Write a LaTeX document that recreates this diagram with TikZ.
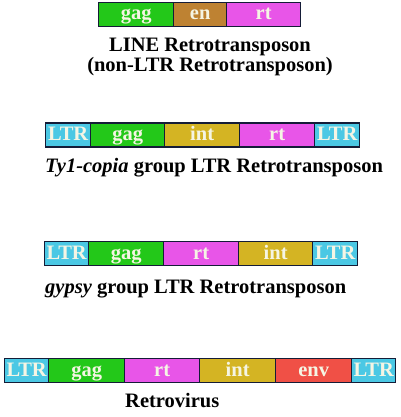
\documentclass[tikz,border=0pt]{standalone}
\usepackage{fontspec}
\setmainfont{Liberation Serif}
\definecolor{cltr}{RGB}{75,200,228}
\definecolor{cgag}{RGB}{35,200,25}
\definecolor{cen}{RGB}{190,130,50}
\definecolor{crt}{RGB}{232,85,232}
\definecolor{cint}{RGB}{212,180,35}
\definecolor{cenv}{RGB}{240,80,70}
\definecolor{cline}{RGB}{20,28,55}
\definecolor{clab}{RGB}{245,245,228}
\begin{document}
\begin{tikzpicture}[x=1pt,y=-1pt,
  seg/.style={draw=cline, line width=1.3pt, minimum height=24pt, inner sep=0pt,
    anchor=west, text=clab, font=\fontsize{20.5}{20.5}\selectfont\bfseries,
    text height=11pt, text depth=0pt},
  captext/.style={anchor=base west, inner sep=0pt, align=center,
    font=\fontsize{20.5}{17.5}\selectfont\bfseries}]
\useasboundingbox (0,0) rectangle (400,417);
% Row 1: LINE
\node[seg, fill=cgag, minimum width=75pt] (agag) at (98,14.5) {gag};
\node[seg, fill=cen, minimum width=53pt] (aen) at (173,14.5) {en};
\node[seg, fill=crt, minimum width=74pt] (art) at (226,14.5) {rt};
\node[captext, anchor=north] (atxt) at (210,38) {LINE Retrotransposon\\(non-LTR Retrotransposon)};
% Row 2: Ty1-copia
\node[seg, fill=cltr, minimum width=45pt] (bltr1) at (45,135) {LTR};
\node[seg, fill=cgag, minimum width=74pt] (bgag) at (90,135) {gag};
\node[seg, fill=cint, minimum width=75pt] (bint) at (164,135) {int};
\node[seg, fill=crt, minimum width=75pt] (brt) at (239,135) {rt};
\node[seg, fill=cltr, minimum width=45pt] (bltr2) at (314,135) {LTR};
\node[captext] (btxt) at (45,172) {\textit{Ty1-copia} group LTR Retrotransposon};
% Row 3: gypsy
\node[seg, fill=cltr, minimum width=44pt] (cltr1) at (44,253.5) {LTR};
\node[seg, fill=cgag, minimum width=75pt] (cgagn) at (88,253.5) {gag};
\node[seg, fill=crt, minimum width=75pt] (crtn) at (163,253.5) {rt};
\node[seg, fill=cint, minimum width=74pt] (cintn) at (238,253.5) {int};
\node[seg, fill=cltr, minimum width=45pt] (cltr2) at (312,253.5) {LTR};
\node[captext] (ctxt) at (45,293) {\textit{gypsy} group LTR Retrotransposon};
% Row 4: Retrovirus
\node[seg, fill=cltr, minimum width=44pt] (dltr1) at (4,370.5) {LTR};
\node[seg, fill=cgag, minimum width=76pt] (dgag) at (48,370.5) {gag};
\node[seg, fill=crt, minimum width=75pt] (drt) at (124,370.5) {rt};
\node[seg, fill=cint, minimum width=76pt] (dint) at (199,370.5) {int};
\node[seg, fill=cenv, minimum width=76pt] (denv) at (275,370.5) {env};
\node[seg, fill=cltr, minimum width=44pt] (dltr2) at (351,370.5) {LTR};
\node[captext] (dtxt) at (125,407) {Retrovirus};
\end{tikzpicture}
\end{document}
